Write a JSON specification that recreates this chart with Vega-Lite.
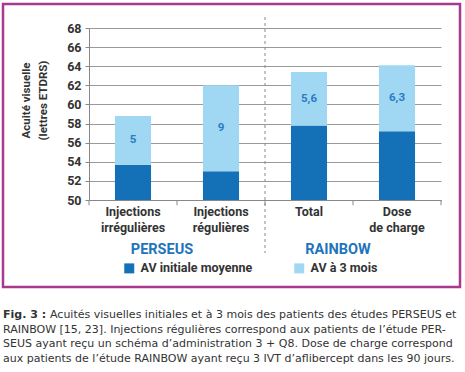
{
  "$schema": "https://vega.github.io/schema/vega-lite/v6.json",
  "width": 352,
  "height": 172,
  "autosize": {"type": "none"},
  "padding": {"left": 89, "top": 28, "right": 24, "bottom": 172},
  "background": "white",
  "config": {"view": {"stroke": null}, "font": "Roboto"},
  "data": {
    "values": [
      {"cat": "Injections irrégulières", "study": "PERSEUS", "initial": 53.7, "final": 58.8, "gain": "5"},
      {"cat": "Injections régulières", "study": "PERSEUS", "initial": 53.0, "final": 62.0, "gain": "9"},
      {"cat": "Total", "study": "RAINBOW", "initial": 57.8, "final": 63.4, "gain": "5,6"},
      {"cat": "Dose de charge", "study": "RAINBOW", "initial": 57.2, "final": 64.1, "gain": "6,3"}
    ]
  },
  "layer": [
    {
      "data": {"values": [{}]},
      "mark": {"type": "rect", "fill": "transparent", "stroke": "#a8398e", "strokeWidth": 2.5},
      "encoding": {"x": {"value": -86}, "x2": {"value": 371}, "y": {"value": -24}, "y2": {"value": 259}}
    },
    {
      "mark": {"type": "bar", "width": {"band": 0.41}},
      "encoding": {
        "x": {
          "field": "cat", "type": "nominal",
          "scale": {"domain": ["Injections irrégulières", "Injections régulières", "Total", "Dose de charge"], "paddingInner": 0, "paddingOuter": 0},
          "axis": {
            "title": null, "labelAngle": 0, "ticks": false, "labelPadding": 5,
            "labelExpr": "datum.value == 'Dose de charge' ? ['Dose', 'de charge'] : split(datum.value, ' ')",
            "labelFontSize": 12.5, "labelFontWeight": "bold", "labelColor": "#333333", "labelLineHeight": 16.5,
            "domainColor": "#888888", "grid": false
          }
        },
        "y": {
          "field": "initial", "type": "quantitative",
          "scale": {"domain": [50, 68], "nice": false, "zero": false},
          "axis": {
            "values": [50, 52, 54, 56, 58, 60, 62, 64, 66, 68],
            "tickCount": 20,
            "labelOverlap": false,
            "title": ["Acuité visuelle", "(lettres ETDRS)"],
            "titleFontSize": 11.5, "titleFontWeight": "bold", "titleColor": "#333333",
            "titleAngle": -90, "titleAlign": "center", "titleBaseline": "top",
            "titleX": -69, "titleY": 72, "titleLineHeight": 17,
            "labelFontSize": 12.5, "labelFontWeight": "bold", "labelColor": "#333333", "labelPadding": 4,
            "tickSize": 4, "tickColor": "#888888", "domainColor": "#888888",
            "grid": true, "gridColor": "#9a9a9a", "gridWidth": 1
          }
        },
        "y2": {"datum": 50},
        "color": {
          "datum": "AV initiale moyenne", "type": "nominal",
          "scale": {"domain": ["AV initiale moyenne", "AV à 3 mois"], "range": ["#1470b7", "#a0d7f2"]},
          "legend": {
            "title": null, "orient": "none", "direction": "horizontal", "legendX": 34, "legendY": 234,
            "symbolType": "square", "symbolSize": 100, "symbolStrokeWidth": 0, "symbolOpacity": 1,
            "labelFontSize": 12.5, "labelFontWeight": "bold", "labelColor": "#333333", "labelOffset": 5,
            "columnPadding": 40, "padding": 0
          }
        }
      }
    },
    {
      "mark": {"type": "bar", "width": {"band": 0.41}},
      "encoding": {
        "x": {"field": "cat", "type": "nominal"},
        "y": {"field": "initial", "type": "quantitative"},
        "y2": {"field": "final"},
        "color": {"datum": "AV à 3 mois", "type": "nominal"}
      }
    },
    {
      "transform": [{"calculate": "(datum.initial + datum.final) / 2", "as": "mid"}],
      "mark": {"type": "text", "fontSize": 11.5, "fontWeight": "bold", "color": "#2a7cc0", "baseline": "middle"},
      "encoding": {
        "x": {"field": "cat", "type": "nominal"},
        "y": {"field": "mid", "type": "quantitative"},
        "text": {"field": "gain"}
      }
    },
    {
      "mark": {"type": "rule", "color": "#888888", "strokeWidth": 1},
      "encoding": {
        "x": {"field": "cat", "type": "nominal", "bandPosition": 0},
        "y": {"datum": 50},
        "y2": {"datum": 49.45}
      }
    },
    {
      "data": {"values": [{}]},
      "mark": {"type": "rule", "color": "#888888", "strokeWidth": 1},
      "encoding": {
        "x": {"datum": "Dose de charge", "type": "nominal", "bandPosition": 1},
        "y": {"datum": 50},
        "y2": {"datum": 49.45}
      }
    },
    {
      "data": {"values": [{}]},
      "mark": {"type": "rule", "color": "#8a8a8a", "strokeWidth": 1, "strokeDash": [3, 3]},
      "encoding": {
        "x": {"datum": "Total", "type": "nominal", "bandPosition": 0},
        "y": {"datum": 69.15},
        "y2": {"datum": 44.45}
      }
    },
    {
      "data": {"values": [{"study": "PERSEUS", "cat": "Injections régulières"}, {"study": "RAINBOW", "cat": "Dose de charge"}]},
      "mark": {"type": "text", "fontSize": 14.5, "fontWeight": "bold", "color": "#1f74bc", "baseline": "middle", "dx": -15, "dy": 1},
      "encoding": {
        "x": {"field": "cat", "type": "nominal", "bandPosition": 0},
        "y": {"datum": 44.87},
        "text": {"field": "study"}
      }
    },
    {
      "data": {"values": [{}]},
      "mark": {"type": "text", "text": "Fig. 3 :", "font": "DejaVu Sans", "fontSize": 11, "fontWeight": "bold", "color": "#333333", "align": "left", "baseline": "alphabetic"},
      "encoding": {"x": {"value": -86}, "y": {"value": 290}}
    },
    {
      "data": {"values": [{}]},
      "mark": {"type": "text", "text": "Acuités visuelles initiales et à 3 mois des patients des études PERSEUS et", "font": "DejaVu Sans", "fontSize": 11, "color": "#333333", "align": "left", "baseline": "alphabetic"},
      "encoding": {"x": {"value": -39}, "y": {"value": 290}}
    },
    {
      "data": {"values": [{}]},
      "mark": {"type": "text", "text": ["RAINBOW [15, 23]. Injections régulières correspond aux patients de l’étude PER-", "SEUS ayant reçu un schéma d’administration 3 + Q8. Dose de charge correspond", "aux patients de l’étude RAINBOW ayant reçu 3 IVT d’aflibercept dans les 90 jours."], "font": "DejaVu Sans", "fontSize": 11, "lineHeight": 14.6, "color": "#333333", "align": "left", "baseline": "alphabetic"},
      "encoding": {"x": {"value": -86}, "y": {"value": 304.6}}
    }
  ]
}
